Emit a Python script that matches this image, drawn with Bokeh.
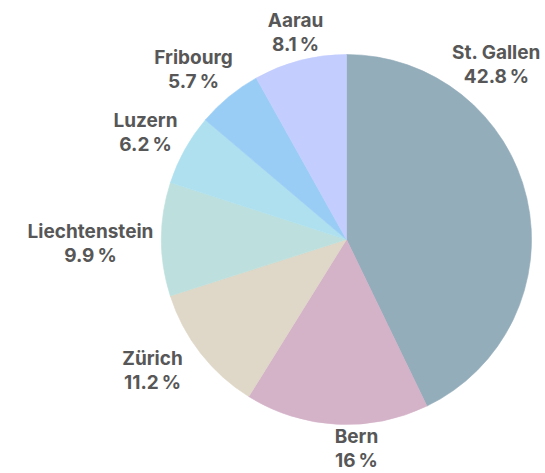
import math
from bokeh.plotting import figure
from bokeh.models import ColumnDataSource, Range1d
from bokeh.core.properties import value
from bokeh.embed import file_html
from bokeh.resources import INLINE

# data
cantons = ["St. Gallen", "Bern", "Zürich", "Liechtenstein", "Luzern", "Fribourg", "Aarau"]
shares = [42.8, 16.0, 11.2, 9.9, 6.2, 5.7, 8.1]
pct_labels = ["42.8\u202f%", "16\u202f%", "11.2\u202f%", "9.9\u202f%", "6.2\u202f%", "5.7\u202f%", "8.1\u202f%"]
colors = ["#93adbb", "#d4b2c8", "#dfd7c7", "#bde0de", "#aee0f0", "#9acdf5", "#c3cdfe"]

# layout (page pixel positions of label block centres)
label_px = [(496, 64), (356, 448), (152, 370), (90, 243), (145, 132), (193, 69), (295, 32)]

W, H = 545, 473
cx, cy, R = 346, H - 239, 185

total = sum(shares)
starts, ends = [], []
cum = 0.0
for s in shares:
    a0 = math.pi / 2 - 2 * math.pi * (cum + s) / total
    a1 = math.pi / 2 - 2 * math.pi * cum / total
    starts.append(a0)
    ends.append(a1)
    cum += s

src = ColumnDataSource(dict(start=starts, end=ends, color=colors))

p = figure(width=W, height=H, x_range=Range1d(0, W), y_range=Range1d(0, H),
           output_backend="svg", toolbar_location=None, min_border=0)
p.axis.visible = False
p.grid.visible = False
p.outline_line_color = None
p.background_fill_color = "white"

p.wedge(x=cx, y=cy, radius=R, start_angle="start", end_angle="end",
        fill_color="color", line_color="color", line_width=0.6, source=src)

lsrc = ColumnDataSource(dict(
    x=[q[0] for q in label_px],
    y=[H - q[1] for q in label_px],
    t=[f"{c}\n{l}" for c, l in zip(cantons, pct_labels)],
))
p.text(x="x", y="y", text="t", source=lsrc, text_align="center", text_baseline="middle",
       text_font=value("Inter"), text_font_style="bold", text_font_size="19px",
       text_color="#575757", text_line_height=1.05)

open("out.html", "w").write(file_html(p, INLINE))
